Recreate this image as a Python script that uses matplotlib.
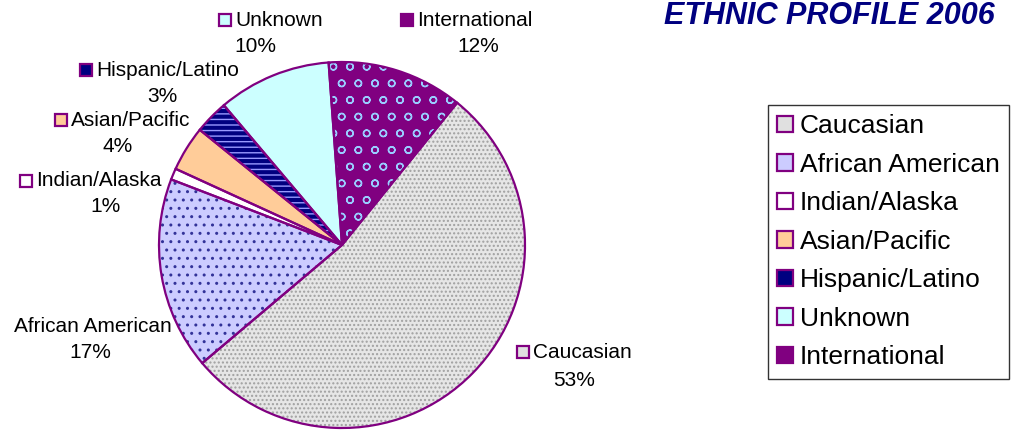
import matplotlib

matplotlib.use("Agg")
import matplotlib.pyplot as plt
from matplotlib.patches import Patch, Rectangle

plt.rcParams["font.family"] = ["Liberation Sans", "DejaVu Sans"]
plt.rcParams["hatch.linewidth"] = 1.0

groups = ["Caucasian", "African American", "Indian/Alaska", "Asian/Pacific",
          "Hispanic/Latino", "Unknown", "International"]
shares = [53, 17, 1, 4, 3, 10, 12]
pct_labels = ["53%", "17%", "1%", "4%", "3%", "10%", "12%"]

face_colors = ["#E6E6E6", "#CCCCFF", "#FFFFFF", "#FFCC99", "#000080", "#CCFFFF", "#800080"]
hatch_colors = ["#A0A0A0", "#333399", "#FFFFFF", "#FFCC99", "#9999FF", "#CCFFFF", "#99CCFF"]
hatches = ["....", "..", None, None, "---", None, "o"]
key_colors = ["#E0E0E0", "#CCCCFF", "#FFFFFF", "#FFCC99", "#000080", "#CCFFFF", "#800080"]
EDGE = "#800080"

W, H = 1013, 430
fig = plt.figure(figsize=(W / 100, H / 100), dpi=100)
ax = fig.add_axes([0, 0, 1, 1])


def Y(y):
    # pixel row (from top) -> data y
    return H - y


center = (342, Y(245))
radius = 183

# fill + pattern layer
wedges, _ = ax.pie(shares, startangle=51, counterclock=False, center=center,
                   radius=radius, colors=face_colors,
                   wedgeprops=dict(linewidth=0))
for w, hc, h in zip(wedges, hatch_colors, hatches):
    w.set_edgecolor(hc)
    w.set_linewidth(0)
    if h:
        w.set_hatch(h)

# outline layer
ax.pie(shares, startangle=51, counterclock=False, center=center, radius=radius,
       wedgeprops=dict(fill=False, edgecolor=EDGE, linewidth=1.6))

ax.set_xlim(0, W)
ax.set_ylim(0, H)
ax.set_aspect("auto")
ax.axis("off")

# data labels: (square left x, first line y, percent center x, percent y)
label_pos = {
    "Caucasian": (517, 352, 574, 380),
    "African American": (None, 326, 90, 352),
    "Indian/Alaska": (20, 181, 105, 207),
    "Asian/Pacific": (55, 120, 118, 146),
    "Hispanic/Latino": (80, 70, 162, 96),
    "Unknown": (219, 20, 255, 46),
    "International": (401, 20, 478, 46),
}
fs = 15
sq = 12
for name, pct, kc in zip(groups, pct_labels, key_colors):
    sx, ly, px, py = label_pos[name]
    if sx is None:
        ax.text(172, Y(ly), name, fontsize=fs, ha="right", va="center")
    else:
        ax.add_patch(Rectangle((sx, Y(ly) - sq / 2), sq, sq, facecolor=kc,
                               edgecolor=EDGE, linewidth=1.6))
        ax.text(sx + sq + 4, Y(ly), name, fontsize=fs, ha="left", va="center")
    ax.text(px, Y(py), pct, fontsize=fs, ha="center", va="center")

fig.text(995 / W, 1 - 16 / H, "ETHNIC PROFILE 2006", fontsize=22, fontweight="bold",
         fontstyle="italic", color="#000080", ha="right", va="center")

handles = [Patch(facecolor=kc, edgecolor=EDGE, linewidth=1.6) for kc in key_colors]
leg = fig.legend(handles, groups, loc="upper left",
                 bbox_to_anchor=(768 / W, 1 - 105 / H), borderaxespad=0,
                 fontsize=19, frameon=True, fancybox=False, edgecolor="black",
                 handlelength=0.6, handleheight=0.6, handletextpad=0.25,
                 labelspacing=0.55, borderpad=0.35)
leg.get_frame().set_linewidth(1.0)

fig.savefig("out.png", dpi=100)
